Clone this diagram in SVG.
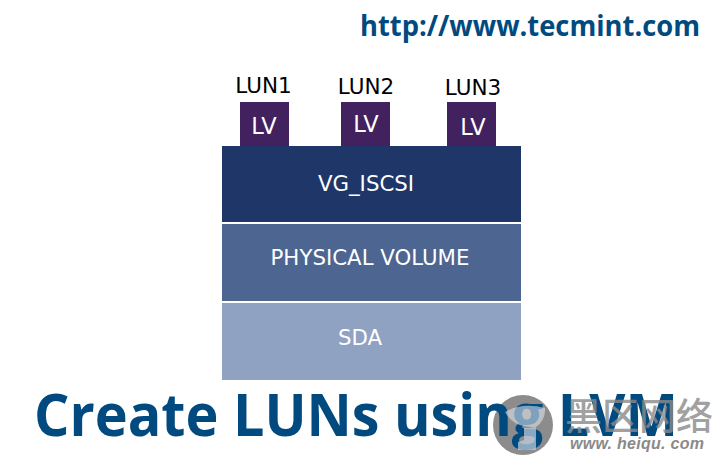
<svg xmlns="http://www.w3.org/2000/svg" width="726" height="460" viewBox="0 0 726 460">
<style>
.d{font-family:"DejaVu Sans",sans-serif}
.lun{font-size:21.5px;fill:#000;text-anchor:middle}
.lv{font-size:22.5px;fill:#fff;text-anchor:middle}
.b{font-size:21.3px;fill:#fff;text-anchor:middle}
.box{fill:#42215f}
.h{font-family:"Open Sans","Noto Sans",sans-serif;font-weight:700;fill:#004a80}
</style>
<rect width="726" height="460" fill="#fff"/>
<text class="h" x="360" y="36" font-size="28" textLength="340" lengthAdjust="spacingAndGlyphs">http://www.tecmint.com</text>
<g id="lun1"><text class="d lun" x="263.5" y="93">LUN1</text></g>
<g id="lun2"><text class="d lun" x="366" y="94">LUN2</text></g>
<g id="lun3"><text class="d lun" x="473" y="95">LUN3</text></g>
<g id="lv1"><rect class="box" x="240" y="102" width="49" height="44"/><text class="d lv" x="264" y="134">LV</text></g>
<g id="lv2"><rect class="box" x="341" y="102" width="49" height="44"/><text class="d lv" x="366" y="132">LV</text></g>
<g id="lv3"><rect class="box" x="447" y="102" width="49" height="44"/><text class="d lv" x="473" y="135">LV</text></g>
<g id="vg"><rect x="222" y="146" width="299" height="76" fill="#1e3768"/><text class="d b" x="366" y="191">VG_ISCSI</text></g>
<g id="pv"><rect x="222" y="224" width="299" height="77" fill="#4d6591"/><text class="d b" x="370" y="265">PHYSICAL VOLUME</text></g>
<g id="sda"><rect x="222" y="303" width="299" height="77" fill="#8fa2c2"/><text class="d b" x="360" y="345">SDA</text></g>
<g id="connectors"/>
<circle cx="523" cy="425" r="30" fill="#8c8c8c"/>
<text class="h" x="34" y="436" font-size="59" textLength="644" lengthAdjust="spacingAndGlyphs">Create LUNs using LVM</text>
<g id="watermark">
<path d="M505 412Q522 402 545 408Q546 420 535 428L524 426Q512 424 505 412Z" fill="#e6e9ee" opacity=".55"/>
<path d="M524 428H536V450H518V442L524 440Z" fill="#c3d0e0" opacity=".7"/>
<text x="565" y="430" font-size="37" font-weight="500" fill="#8a8a8a" opacity=".8" font-family="'Noto Sans CJK SC',sans-serif" textLength="148">黑区网络</text>
<text x="570" y="449" font-size="16" font-style="italic" font-weight="700" fill="#8a8a8a" font-family="'Liberation Sans',sans-serif" textLength="134">www. heiqu. com</text>
</g>
</svg>
